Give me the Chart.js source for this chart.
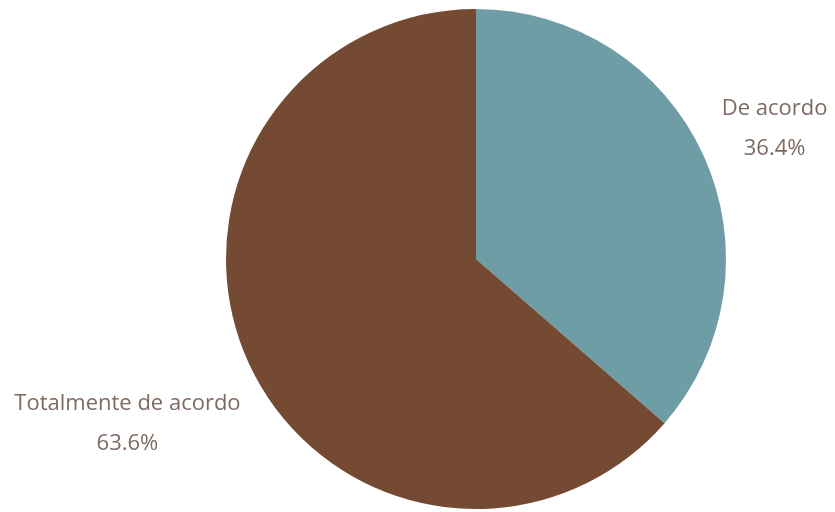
<!DOCTYPE html>
<html>
<head>
<meta charset="utf-8">
<script src="https://cdn.jsdelivr.net/npm/chart.js@4/dist/chart.umd.min.js"></script>
<style>
  html, body { margin: 0; padding: 0; background: #ffffff; }
  #wrap { width: 835px; height: 512px; }
</style>
</head>
<body>
<div id="wrap"><canvas id="chart" width="835" height="512"></canvas></div>
<script>
const categories = ['De acordo', 'Totalmente de acordo'];
const shares = [36.4, 63.6];
const sliceColors = ['#6f9da6', '#754a33'];

// outside labels: name + percentage, placed along each slice's middle angle
const outsideLabels = {
    id: 'outsideLabels',
    afterDatasetsDraw(chart) {
        const ctx = chart.ctx;
        const meta = chart.getDatasetMeta(0);
        ctx.save();
        ctx.font = '22px "Open Sans", sans-serif';
        ctx.fillStyle = '#7d6b62';
        ctx.textAlign = 'center';
        ctx.textBaseline = 'middle';
        meta.data.forEach((arc, i) => {
            const mid = (arc.startAngle + arc.endAngle) / 2;
            const name = categories[i];
            const pct = shares[i].toFixed(1) + '%';
            const w = ctx.measureText(name).width;
            const d = arc.outerRadius + 30 + w * Math.abs(Math.cos(mid)) / 2;
            const x = arc.x + Math.cos(mid) * d;
            const y = arc.y + Math.sin(mid) * d;
            ctx.fillText(name, x, y - 14);
            ctx.fillText(pct, x, y + 26);
        });
        ctx.restore();
    }
};

new Chart(document.getElementById('chart'), {
    type: 'pie',
    data: {
        labels: categories,
        datasets: [{
            data: shares,
            backgroundColor: sliceColors,
            borderWidth: 0
        }]
    },
    options: {
        responsive: false,
        animation: false,
        layout: { padding: { left: 117, right: 0, top: 9, bottom: 3 } },
        plugins: {
            legend: { display: false },
            tooltip: { enabled: false }
        }
    },
    plugins: [outsideLabels]
});
</script>
</body>
</html>
